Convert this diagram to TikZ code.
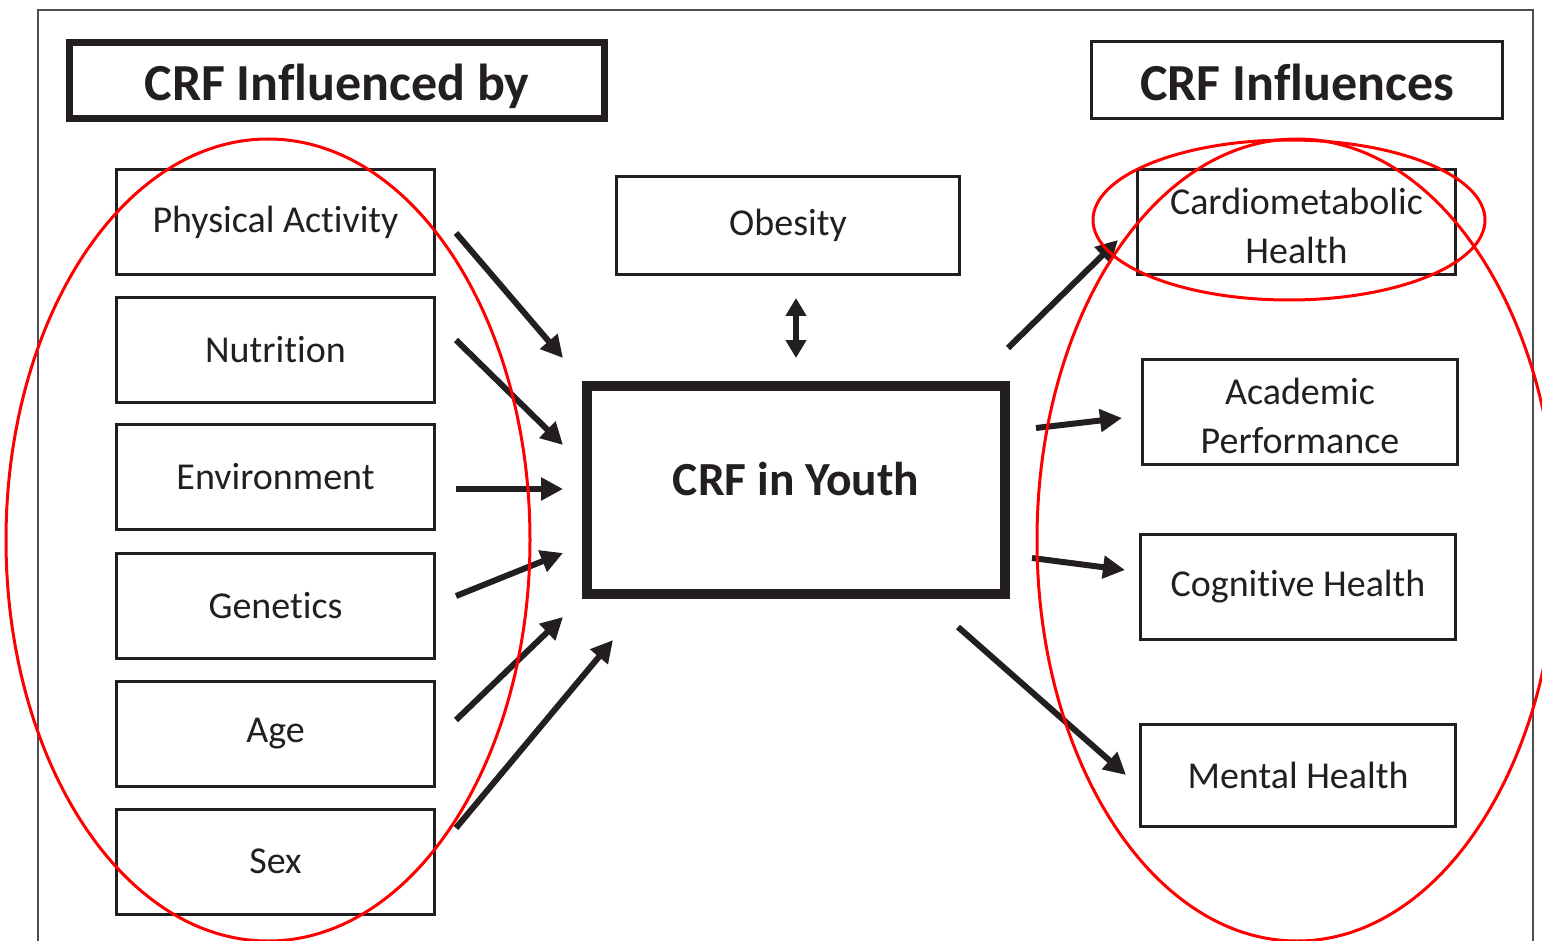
\documentclass[tikz,border=0pt]{standalone}
\usepackage{fontspec}
\setmainfont{Carlito}[Ligatures={NoCommon,NoContextual}]
\usetikzlibrary{arrows.meta,calc}
\definecolor{ink}{HTML}{231F20}
\newcommand{\twoline}[3]{\raisebox{#1}[0pt][0pt]{\begin{tabular}[b]{@{}c@{}}#2\\#3\end{tabular}}}
\newcommand{\onebase}[2]{\raisebox{#1}[0pt][0pt]{#2}}
\begin{document}
\begin{tikzpicture}[x=1pt,y=-1pt,
  box/.style={draw=ink,line width=3pt,minimum width=318pt,minimum height=105pt,inner sep=0pt,text=ink,font=\fontsize{38}{49}\selectfont,align=center},
  titlebox/.style={draw=ink,inner sep=0pt,text=ink,font=\fontsize{52}{60}\selectfont\bfseries},
  arr/.style={draw=ink,line width=6pt,-{Triangle[length=22pt,width=22pt]}},
  darr/.style={draw=ink,line width=6pt,{Triangle[length=18pt,width=20pt]}-{Triangle[length=18pt,width=20pt]}},
  redring/.style={draw=red,line width=3pt}]
\useasboundingbox (0,0) rectangle (1542,941);
\draw[draw=ink!80,line width=1.5pt] (38,960) -- (38,10) -- (1533,10) -- (1533,960);
% titles
\node[titlebox,line width=7pt,minimum width=535pt,minimum height=76pt] (tl) at (337,80.5) {\onebase{-20pt}{CRF Influenced by}};
\node[titlebox,line width=3pt,minimum width=411pt,minimum height=77pt] (tr) at (1297,80) {\onebase{-21pt}{CRF Influences}};
% left boxes
\node[box] (pa)  at (275.5,222)   {Physical Activity};
\node[box] (nut) at (275.5,350)   {Nutrition};
\node[box] (env) at (275.5,476.5) {Environment};
\node[box] (gen) at (275.5,605.5) {Genetics};
\node[box] (age) at (275.5,733.5) {Age};
\node[box] (sex) at (275.5,861.5) {Sex};
% center
\node[box,minimum width=343pt,minimum height=98pt] (ob) at (788,225.5) {\raisebox{2pt}{Obesity}};
\node[draw=ink,line width=10pt,minimum width=418pt,minimum height=208pt,inner sep=0pt,text=ink,font=\fontsize{47.5}{55}\selectfont\bfseries] (youth) at (796,490) {\onebase{-5pt}{CRF in Youth}};
% right boxes
\node[box] (card) at (1296.5,222) {\twoline{-42pt}{Cardiometabolic}{Health}};
\node[box,minimum width=315pt] (acad) at (1300,412) {\twoline{-41pt}{Academic}{Performance}};
\node[box,minimum width=315pt] (cog) at (1298,586.5) {Cognitive Health};
\node[box,minimum width=315pt,minimum height=102pt] (ment) at (1298,775.5) {Mental Health};
% arrows in
\draw[arr] ($(pa.east)+(20,11)$) -- ($(youth.west)+(-19,-132)$);
\draw[arr] ($(nut.east)+(20,-10)$) -- ($(youth.west)+(-19,-45)$);
\draw[arr] ($(env.east)+(20,12.5)$) -- ($(youth.west)+(-19,-1)$);
\draw[arr] ($(gen.east)+(20,-9.5)$) -- ($(youth.west)+(-19,63)$);
\draw[arr] ($(age.east)+(20,-13.5)$) -- ($(youth.west)+(-19,127)$);
\draw[arr] ($(sex.east)+(20,-33.5)$) -- ($(youth.south west)+(31,41)$);
\draw[darr] ($(ob.south)+(8,22)$) -- ($(youth.north)+(0,-23)$);
% arrows out
\draw[arr] ($(youth.north east)+(-2,-33)$) -- ($(card.west)+(-18,18)$);
\draw[arr] ($(youth.east)+(26,-62)$) -- ($(acad.west)+(-19,6)$);
\draw[arr] ($(youth.east)+(22,68)$) -- ($(cog.west)+(-14,-16.5)$);
\draw[arr] ($(youth.south east)+(-52,28)$) -- ($(ment.west)+(-13,-0.5)$);
% red marks
\draw[redring] (268,540) ellipse [x radius=262pt, y radius=401pt];
\draw[redring] (1297,540) ellipse [x radius=260pt, y radius=401pt];
\draw[redring] (1289,220) ellipse [x radius=196pt, y radius=80pt];
\end{tikzpicture}
\end{document}
